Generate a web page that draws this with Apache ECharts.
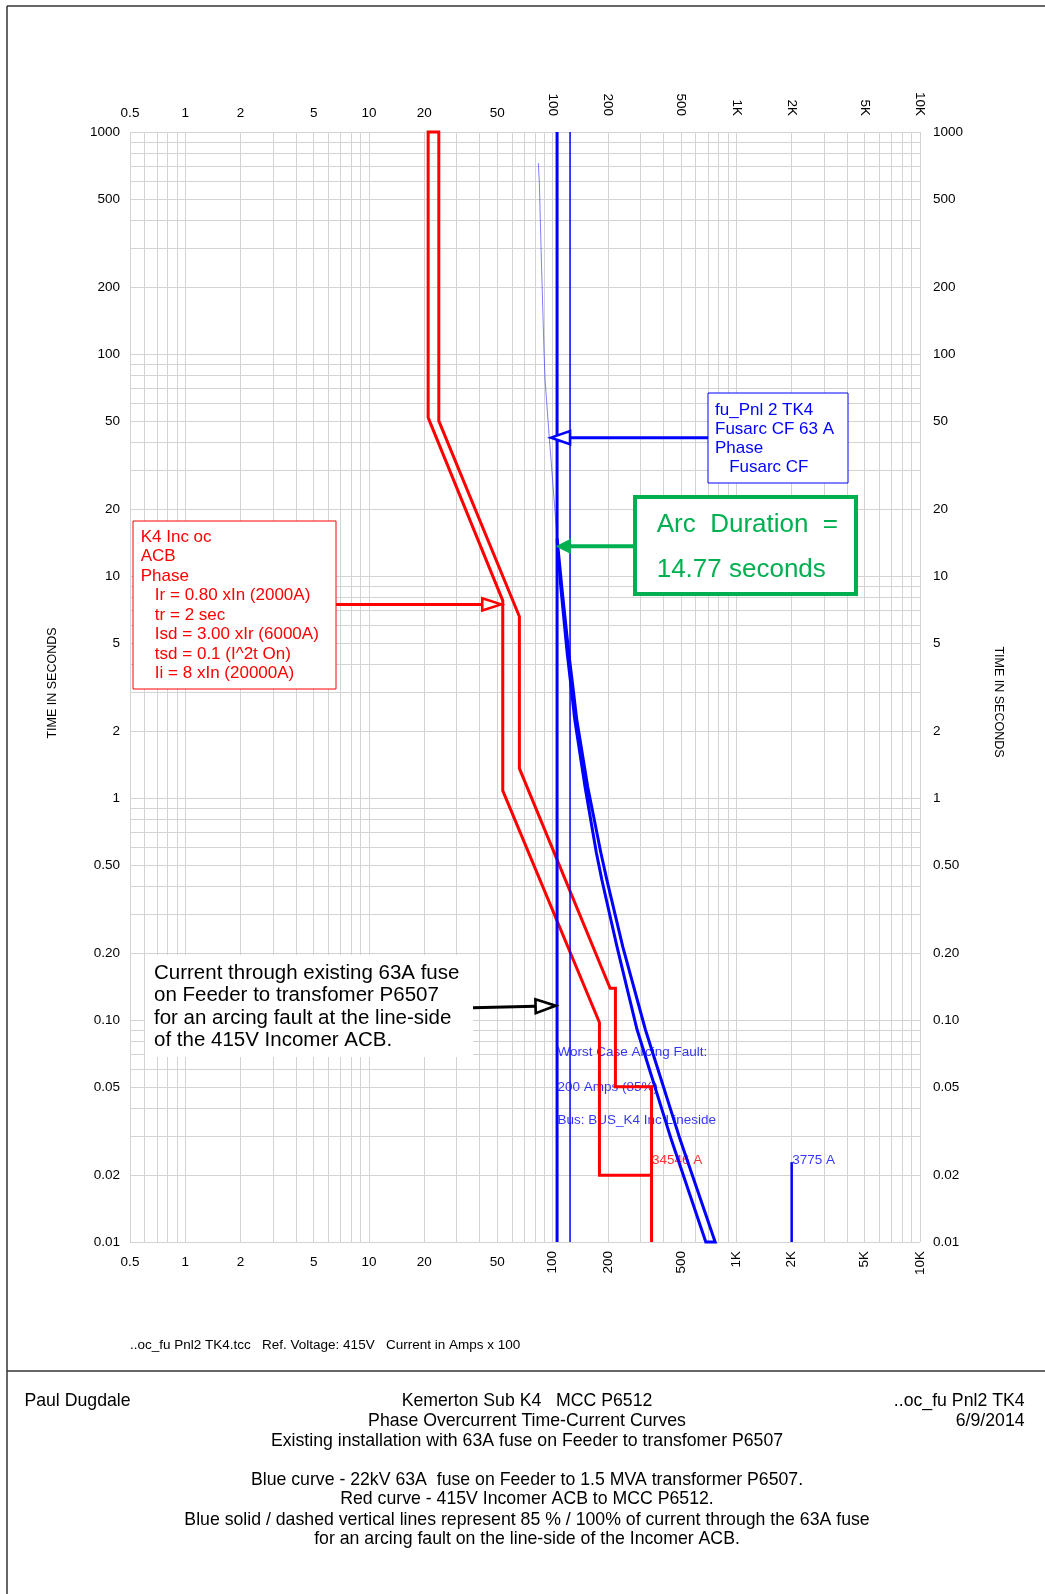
<!DOCTYPE html>
<html><head><meta charset="utf-8">
<script src="https://cdn.jsdelivr.net/npm/echarts@6/dist/echarts.min.js"></script>
<style>html,body{margin:0;padding:0;background:#fff}#c{width:1045px;height:1594px}</style>
</head><body><div id="c"></div>
<script>
// ---------- data (current in A x100, time in seconds) ----------
const xTickValues = [0.5,1,2,5,10,20,50,100,200,500,1000,2000,5000,10000];
const xTickLabels = ['0.5','1','2','5','10','20','50','100','200','500','1K','2K','5K','10K'];
const xHorizontalTicks = [0.5,1,2,5,10,20,50];
const xRotatedTicks = [100,200,500,1000,2000,5000,10000];
const yTickValues = [0.01,0.02,0.05,0.1,0.2,0.5,1,2,5,10,20,50,100,200,500,1000];
const yTickLabels = ['0.01','0.02','0.05','0.10','0.20','0.50','1','2','5','10','20','50','100','200','500','1000'];

// Incomer ACB (red band): minimum side bottom->top, maximum side top->bottom
const acbMin = [[345.46,0.01],[345.46,0.02],[179.8,0.02],[179.8,0.0975],[53.5,1.08],[53.5,7.75],[21,51.7],[21,1000]];
const acbMax = [[24,1000],[24,50],[65.9,6.57],[65.9,1.36],[205.6,0.139],[219.7,0.139],[219.7,0.05],[345.46,0.05],[345.46,0.01]];
// 63A fuse (blue)
const fuseUpper = [[83.6,724],[84.6,598],[87,250],[89.8,101],[91,76],[95.8,42.3],[99,30],[105.7,14.77]];
const fuseMinMelt = [[105.7,14.77],[110.7,8.96],[120,4.49],[126,3.18],[132,2.25],[150,1.126],[173,0.567],[185.4,0.427],[224,0.214],[288,0.0906],[444,0.0287],[682,0.01]];
const fuseTotalClear = [[105.7,14.77],[112.1,8.96],[122.4,4.49],[128.8,3.18],[135.3,2.25],[155.1,1.126],[183,0.567],[197.5,0.427],[240.8,0.214],[319.7,0.0906],[496,0.0287],[767,0.01]];
const arcCurrent85 = 105.7;
const arcCurrent100 = 124.4;
const faultLine3775 = [[2001.2,0.01],[2001.2,0.0229]];
const timeRange = [0.01,1000];

const arcNotes = [['Worst Case Arcing Fault:',105.7,0.0713],['200 Amps (85%)',105.7,0.0497],['Bus: BUS_K4 Inc Lineside',105.7,0.0353]];
const redNote = [['34546 A',345.46,0.0233]];
const blueNote = [['3775 A',2001.2,0.0233]];

// ---------- helpers ----------
const L = Math.log10;
const FONT = "'Liberation Sans', Arial, Helvetica, sans-serif";
const T = pts => pts.map(p => [L(p[0]), L(p[1])]);
function gridVals(lo, hi) {
  const out = [];
  for (let e = -3; e <= 4; e++) for (let m = 1; m <= 9; m++) {
    const v = +(m * Math.pow(10, e)).toPrecision(6);
    if (v >= lo - 1e-12 && v <= hi + 1e-9) out.push(v);
  }
  return out;
}
const xGrid = gridVals(0.5, 10000);
const yGrid = gridVals(0.01, 1000);
function lab(vals, labels) {
  return v => { const i = vals.findIndex(t => Math.abs(L(t) - v) < 1e-6); return i >= 0 ? labels[i] : ''; };
}
const xFmt = lab(xTickValues, xTickLabels), yFmt = lab(yTickValues, yTickLabels);

function xAx(pos, vals, rotate, margin, withGrid) {
  return {
    type: 'value', position: pos, min: L(0.5), max: 4, gridIndex: 0,
    axisLine: {show: false},
    axisTick: withGrid ? {show: false, customValues: xGrid.map(L)} : {show: false},
    splitLine: {show: !!withGrid, lineStyle: {color: '#d3d3d3', width: 1}},
    axisLabel: {show: true, customValues: vals.map(L), rotate: rotate, margin: margin,
      fontSize: 13.5, color: '#000', fontFamily: FONT, formatter: xFmt}
  };
}
function yAx(pos, margin, withGrid) {
  return {
    type: 'value', position: pos, min: -2, max: 3, gridIndex: 0,
    axisLine: {show: false},
    axisTick: withGrid ? {show: false, customValues: yGrid.map(L)} : {show: false},
    splitLine: {show: !!withGrid, lineStyle: {color: '#d3d3d3', width: 1}},
    axisLabel: {show: true, customValues: yTickValues.map(L), margin: margin,
      fontSize: 13.5, color: '#000', fontFamily: FONT, formatter: yFmt}
  };
}
function lineS(name, data, color, width, z, extra) {
  return Object.assign({type: 'line', name, data: T(data), symbol: 'none', clip: false, z: z || 3,
    lineStyle: {color, width, join: 'miter', cap: 'butt'}, silent: true}, extra || {});
}
function noteS(items, color) {
  return {type: 'scatter', z: 2, symbolSize: 1, itemStyle: {color: 'transparent'}, silent: true,
    data: items.map(d => ({name: d[0], value: [L(d[1]), L(d[2])]})),
    label: {show: true, position: 'right', distance: 0, formatter: '{b}', color, fontSize: 13.5, fontFamily: FONT}};
}

const chart = echarts.init(document.getElementById('c'));
chart.setOption({
  animation: false,
  backgroundColor: '#fff',
  grid: {left: 130, right: 125, top: 132, bottom: 352, containLabel: false, outerBoundsMode: 'none'},
  xAxis: [
    xAx('bottom', xHorizontalTicks, 0, 13, true),
    xAx('bottom', xRotatedTicks, 90, 9, false),
    xAx('top', xHorizontalTicks, 0, 12, false),
    xAx('top', xRotatedTicks, 90, 16, false)
  ],
  yAxis: [yAx('left', 10, true), yAx('right', 13, false)],
  series: [
    lineS('ACB', acbMin.concat(acbMax), '#ff0000', 3),
    lineS('Fuse upper', fuseUpper, 'rgba(40,40,255,0.6)', 1),
    lineS('Fuse band', fuseMinMelt.concat(fuseTotalClear.slice().reverse()), '#0000ff', 3),
    lineS('Arc 85%', [[arcCurrent85, timeRange[0]], [arcCurrent85, timeRange[1]]], '#0000ff', 3),
    lineS('Arc 100%', [[arcCurrent100, timeRange[0]], [arcCurrent100, timeRange[1]]], '#0000ff', 1.5),
    lineS('3775 A', faultLine3775, '#0000ff', 2.5),
    noteS(arcNotes, '#0000ff'),
    noteS(redNote, '#ff0000'),
    noteS(blueNote, '#0000ff')
  ]
});

// ---------- annotations ----------
const px = (x, y) => chart.convertToPixel({seriesIndex: 0}, [L(x), L(y)]);
function txt(s, x, y, size, color, align, extra) {
  return Object.assign({type: 'text', z: 20, x, y, silent: true,
    style: {text: s, x: 0, y: 0, font: size + 'px ' + FONT, fill: color,
      align: align || 'left', verticalAlign: 'middle', textAlign: align || 'left', textVerticalAlign: 'middle'}}, extra || {});
}
function rect(x, y, w, h, stroke, lw) {
  return {type: 'rect', z: 15, silent: true, shape: {x, y, width: w, height: h},
    style: {fill: '#fff', stroke: stroke || null, lineWidth: lw || 0}};
}
function line(x0, y0, x1, y1, color, lw) {
  return {type: 'line', z: 20, silent: true, shape: {x1: x0, y1: y0, x2: x1, y2: y1}, style: {stroke: color, lineWidth: lw}};
}
function arrow(x0, y0, tip, color, filled, len, half, lw) {
  const tx = tip[0], ty = tip[1];
  const dx = tx - x0, dy = ty - y0, d = Math.hypot(dx, dy);
  const ux = dx / d, uy = dy / d, nx = -uy, ny = ux;
  const bx = tx - ux * len, by = ty - uy * len;
  return [
    {type: 'polyline', z: 21, silent: true, shape: {points: [[x0, y0], [bx, by]]}, style: {stroke: color, lineWidth: lw, fill: null}},
    {type: 'polygon', z: 22, silent: true,
      shape: {points: [[tx, ty], [bx + nx * half, by + ny * half], [bx - nx * half, by - ny * half]]},
      style: {fill: filled ? color : '#fff', stroke: color, lineWidth: filled ? 1 : 2.6, lineJoin: 'miter'}}
  ];
}

const blueTip = px(96.8, 42);
const greenTip = px(arcCurrent85, 13.6);
const redTip = px(53.5, 7.45);
const blackTip = px(arcCurrent85, 0.116);

const G = [];
// page frame
G.push(line(7, 6, 1045, 6, '#333', 1.5));
G.push(line(7, 6, 7, 1594, '#333', 1.5));
G.push(line(7, 1371, 1045, 1371, '#333', 1.5));

// blue fuse box
G.push(rect(708, 393, 140, 90, '#0000ff', 1));
['fu_Pnl 2 TK4', 'Fusarc CF 63 A', 'Phase', '   Fusarc CF'].forEach((s, i) => G.push(txt(s, 715, 410 + i * 19.2, 17, '#0000ff')));
G.push(...arrow(708, blueTip[1], [blueTip[0] + 1, blueTip[1]], '#0000ff', false, 19, 6.5, 3));

// green arc duration box
G.push(rect(635, 497, 221, 97, '#00b050', 4));
G.push(txt('Arc  Duration  =', 656.7, 525, 26, '#00b050'));
G.push(txt('14.77 seconds', 656.7, 570, 26, '#00b050'));
G.push(...arrow(633, greenTip[1], [greenTip[0] - 0.5, greenTip[1]], '#00b050', true, 14, 7, 4));

// red ACB box
G.push(rect(133, 521, 203, 168, '#ff0000', 1));
['K4 Inc oc', 'ACB', 'Phase', '   Ir = 0.80 xIn (2000A)', '   tr = 2 sec', '   Isd = 3.00 xIr (6000A)', '   tsd = 0.1 (I^2t On)', '   Ii = 8 xIn (20000A)']
  .forEach((s, i) => G.push(txt(s, 140.7, 537.3 + i * 19.43, 17, '#ff0000')));
G.push(...arrow(336, redTip[1], [redTip[0] - 1.5, redTip[1]], '#ff0000', false, 19, 6, 3));

// black note
G.push(rect(145, 955, 328, 102, null, 0));
['Current through existing 63A fuse', 'on Feeder to transfomer P6507', 'for an arcing fault at the line-side', 'of the 415V Incomer ACB.']
  .forEach((s, i) => G.push(txt(s, 154, 973.5 + i * 22.2, 20.5, '#000')));
G.push(...arrow(473, blackTip[1] + 2, [blackTip[0] - 1.5, blackTip[1]], '#000', false, 20, 7, 3));

// axis titles
G.push(txt('TIME IN SECONDS', 53, 683, 12.5, '#000', 'center', {rotation: Math.PI / 2}));
G.push(txt('TIME IN SECONDS', 998, 702, 12.5, '#000', 'center', {rotation: -Math.PI / 2}));

// footer
G.push(txt('..oc_fu Pnl2 TK4.tcc   Ref. Voltage: 415V   Current in Amps x 100', 130, 1345, 13.5, '#000'));
G.push(txt('Paul Dugdale', 24.4, 1400.7, 17.7, '#000'));
G.push(txt('..oc_fu Pnl2 TK4', 1024.6, 1400.7, 17.7, '#000', 'right'));
G.push(txt('6/9/2014', 1024.6, 1421, 17.7, '#000', 'right'));
[['Kemerton Sub K4   MCC P6512', 1400.7], ['Phase Overcurrent Time-Current Curves', 1421], ['Existing installation with 63A fuse on Feeder to transfomer P6507', 1441.4],
 ['Blue curve - 22kV 63A  fuse on Feeder to 1.5 MVA transformer P6507.', 1480], ['Red curve - 415V Incomer ACB to MCC P6512.', 1499.3],
 ['Blue solid / dashed vertical lines represent 85 % / 100% of current through the 63A fuse', 1519.7], ['for an arcing fault on the line-side of the Incomer ACB.', 1539]]
  .forEach(d => G.push(txt(d[0], 527, d[1], 17.7, '#000', 'center')));

chart.setOption({graphic: {elements: G}});
</script></body></html>
